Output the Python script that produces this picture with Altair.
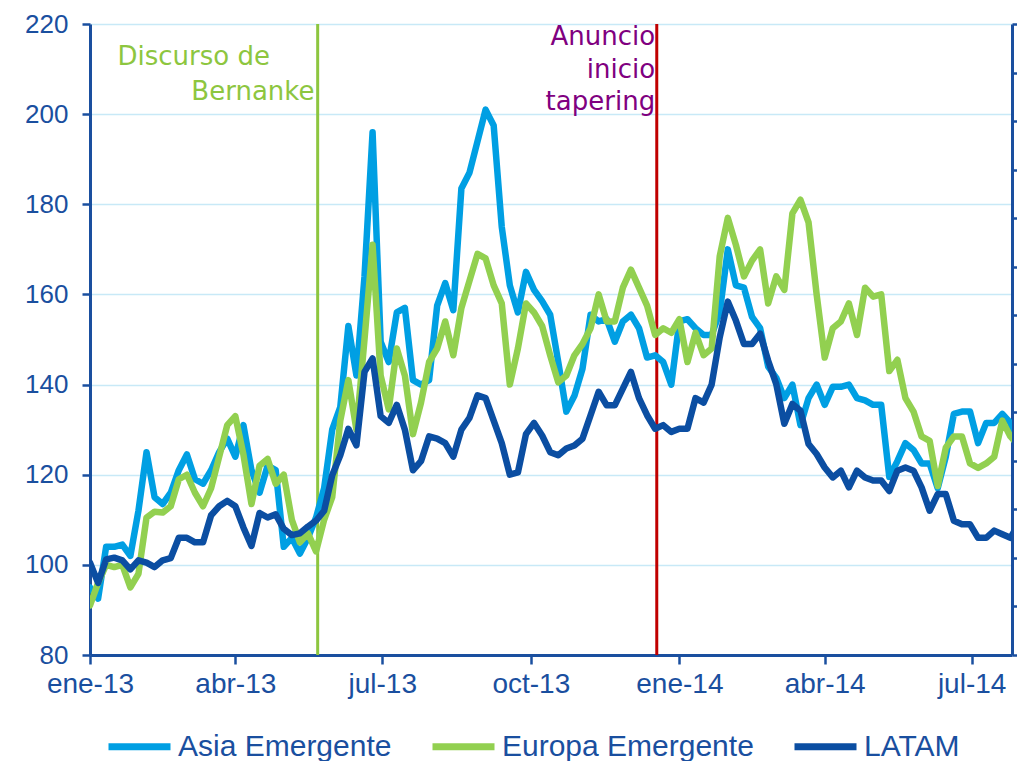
import altair as alt
import pandas as pd

# ---- data (index, base 100 = ene-13), one value every 5 days from 2013-01-01 ----
asia = [95, 92.5, 104, 104, 104.5, 102, 112, 125, 115, 113.5,
        116, 121, 124.5, 119, 118, 121, 125, 128, 124, 131,
        121, 116, 122, 121, 104, 106, 102.5, 106, 110.5, 117,
        130, 135, 153, 142, 164, 196, 149.5, 145, 156, 157,
        141, 140, 141, 157.5, 162.5, 156.5, 183.5, 187, 194, 201,
        197.5, 175, 162, 156, 165, 161, 158.5, 155.5, 145, 134,
        137.5, 143.5, 155.5, 154, 154.5, 149.5, 154, 155.5, 152.5, 146,
        146.5, 145, 140, 154, 154.5, 152.5, 151, 151, 156, 170,
        162, 161.5, 155, 152.5, 144, 141.5, 137, 140, 131, 137,
        140, 135.5, 139.5, 139.5, 140, 137, 136.5, 135.5, 135.5, 119.5,
        123, 127, 125.5, 122.5, 122.5, 117, 124, 133.5, 134, 134,
        127, 131.5, 131.5, 133.5, 131.5, 124]
europa = [91, 96, 100, 99.5, 100, 95, 98, 110.5, 111.8, 111.6,
          113, 119, 120, 116, 113, 117, 124, 131, 133, 124.5,
          113.5, 122, 123.5, 118, 120, 110, 105, 107, 103, 110,
          115, 132, 141, 130, 150, 171, 142, 134.5, 148, 142,
          129, 136, 145, 148, 154, 146.5, 157, 163, 169, 168,
          162, 158, 140, 148, 158, 156, 153, 146.5, 140.5, 142,
          146.5, 149, 152.5, 160, 154, 154, 161.5, 165.5, 161.5, 157.5,
          151, 152.5, 151.5, 154.5, 145, 151.5, 146.5, 148, 168.5, 177,
          171, 164, 167.5, 170, 158, 164, 161, 178, 181, 176,
          160, 146, 152.5, 154, 158, 151, 161.5, 159.5, 160, 143,
          145.5, 137, 134, 128.5, 127.5, 117.5, 126, 128.5, 128.5, 122.5,
          121.5, 122.5, 124, 132, 128.5, 126.5]
latam = [100.5, 96, 101.2, 101.6, 101, 99, 101, 100.5, 99.5, 101,
         101.5, 106, 106, 105, 105, 111, 113, 114.2, 113, 108.3,
         104.2, 111.5, 110.5, 111.2, 108, 106.6, 107, 108.5, 109.8, 112,
         119.9, 124.3, 130.2, 126.5, 142.8, 145.8, 133, 131.5, 135.5, 130,
         121, 123, 128.5, 128, 127, 124, 130, 132.6, 137.6, 137,
         132, 127, 120, 120.5, 129, 131.5, 128.7, 125, 124.3, 125.8,
         126.5, 128, 133.2, 138.4, 135.4, 135.4, 139.1, 142.8, 137, 133.2,
         130.2, 131, 129.5, 130.2, 130.2, 137, 136, 140, 150.5, 158.4,
         154.2, 149, 149, 151.3, 145.3, 140.1, 131.3, 135.7, 134.2, 126.8,
         124.6, 121.6, 119.4, 120.9, 117.2, 120.9, 119.4, 118.7, 118.7, 116.4,
         120.9, 121.6, 120.9, 117.2, 112, 115.7, 115.7, 109.8, 109, 109,
         106, 106, 107.6, 106.8, 106, 109]
fechas = pd.date_range("2013-01-01", periods=len(asia), freq="5D")

series = ["Asia Emergente", "Europa Emergente", "LATAM"]
colores = ["#009FE3", "#92D050", "#0B4EA2"]

y_ticks = [80, 100, 120, 140, 160, 180, 200, 220]
meses = ["ene", "feb", "mar", "abr", "may", "jun", "jul", "ago", "sep", "oct", "nov", "dic"]
x_ticks = [(2013, 1), (2013, 4), (2013, 7), (2013, 10), (2014, 1), (2014, 4), (2014, 7)]

eventos_fecha = ["2013-05-22", "2013-12-18"]

ann_izq_txt = ["Discurso de"]
ann_izq_fecha = ["2013-01-18"]
ann_izq_val = [210.9]
ann_ber_txt = ["Bernanke"]
ann_ber_fecha = ["2013-05-20"]
ann_ber_val = [203.1]
ann_tap_txt = ["Anuncio", "inicio", "tapering"]
ann_tap_fecha = ["2013-12-17", "2013-12-17", "2013-12-17"]
ann_tap_val = [215.3, 208.0, 200.9]

# ---- build table ----
rows = []
for name, vals in zip(series, [asia, europa, latam]):
    for d, v in zip(fechas, vals):
        rows.append({"fecha": d, "valor": v, "serie": name})
df = pd.DataFrame(rows)

AXC = "#1A4F9F"
GRID = "#C8E9F7"
FONT = "Liberation Sans"
ANNFONT = "DejaVu Sans"

x_dom = [alt.DateTime(year=2013, month=1, date=1), alt.DateTime(year=2014, month=7, date=26)]
x_scale = alt.Scale(domain=x_dom)
y_scale = alt.Scale(domain=[80, 220], nice=False)

label_expr = "[" + ",".join("'" + m + "'" for m in meses) + "][month(datum.value)] + '-' + timeFormat(datum.value, '%y')"

x_axis = alt.Axis(
    values=[alt.DateTime(year=y, month=m, date=1) for y, m in x_ticks],
    labelExpr=label_expr, labelFontSize=28, labelFont=FONT, labelColor=AXC,
    tickSize=9, tickColor=AXC, tickWidth=2.5, domainColor=AXC, domainWidth=3,
    grid=False, title=None, labelPadding=6, labelFlush=False, labelOverlap=False,
)
y_axis = alt.Axis(
    values=y_ticks, labelFontSize=26, labelFont=FONT, labelColor=AXC,
    tickSize=8, tickColor=AXC, tickWidth=2.5, domainColor=AXC, domainWidth=3,
    grid=True, gridColor=GRID, gridWidth=1.5, title=None, labelPadding=14,
)

rule_b = alt.Chart(pd.DataFrame({"fecha": eventos_fecha[:1]})).mark_rule(
    color="#8DC63F", strokeWidth=3
).encode(x=alt.X("fecha:T", scale=x_scale, axis=x_axis))
rule_t = alt.Chart(pd.DataFrame({"fecha": eventos_fecha[1:]})).mark_rule(
    color="#C00000", strokeWidth=3
).encode(x=alt.X("fecha:T", scale=x_scale))

lines = alt.Chart(df).mark_line(strokeWidth=6.5, strokeJoin="round", strokeCap="round", clip=True).encode(
    x=alt.X("fecha:T", scale=x_scale, axis=x_axis),
    y=alt.Y("valor:Q", scale=y_scale, axis=y_axis),
    color=alt.Color(
        "serie:N",
        scale=alt.Scale(domain=series, range=colores),
        legend=alt.Legend(
            orient="none", legendX=15, legendY=688, direction="horizontal", title=None,
            symbolType="stroke", symbolSize=3844, symbolStrokeWidth=7,
            labelFontSize=30, labelFont=FONT, labelColor=AXC, labelLimit=600,
            columnPadding=26, labelOffset=4,
        ),
    ),
)

def ann(txt, fechas_, vals, align, color):
    d = pd.DataFrame({"t": txt, "fecha": fechas_, "v": vals})
    return alt.Chart(d).mark_text(
        align=align, baseline="alphabetic", font=ANNFONT, fontSize=26, color=color
    ).encode(
        x=alt.X("fecha:T", scale=x_scale),
        y=alt.Y("v:Q", scale=y_scale),
        text="t:N",
    )

t1 = ann(ann_izq_txt, ann_izq_fecha, ann_izq_val, "left", "#8DC63F")
t2 = ann(ann_ber_txt, ann_ber_fecha, ann_ber_val, "right", "#8DC63F")
t3 = ann(ann_tap_txt, ann_tap_fecha, ann_tap_val, "right", "#800080")

main = alt.layer(rule_b, rule_t, lines, t1, t2, t3)

der_dom = [0, 13]
right = alt.Chart(pd.DataFrame({"r": der_dom})).mark_point(opacity=0).encode(
    y=alt.Y("r:Q", scale=alt.Scale(domain=der_dom, nice=False),
            axis=alt.Axis(orient="right", labels=False, grid=False, tickSize=5,
                          tickColor=AXC, tickWidth=2.5, domainColor=AXC, domainWidth=3,
                          title=None, tickCount=13))
)

chart = alt.layer(main, right).resolve_scale(y="independent").properties(
    width=922, height=631,
    autosize=alt.AutoSizeParams(type="none"),
    padding={"left": 82, "top": 16, "right": 5, "bottom": 106},
).configure_view(stroke=None)

chart.save("out.html", embed_options={"renderer": "svg", "actions": False})
